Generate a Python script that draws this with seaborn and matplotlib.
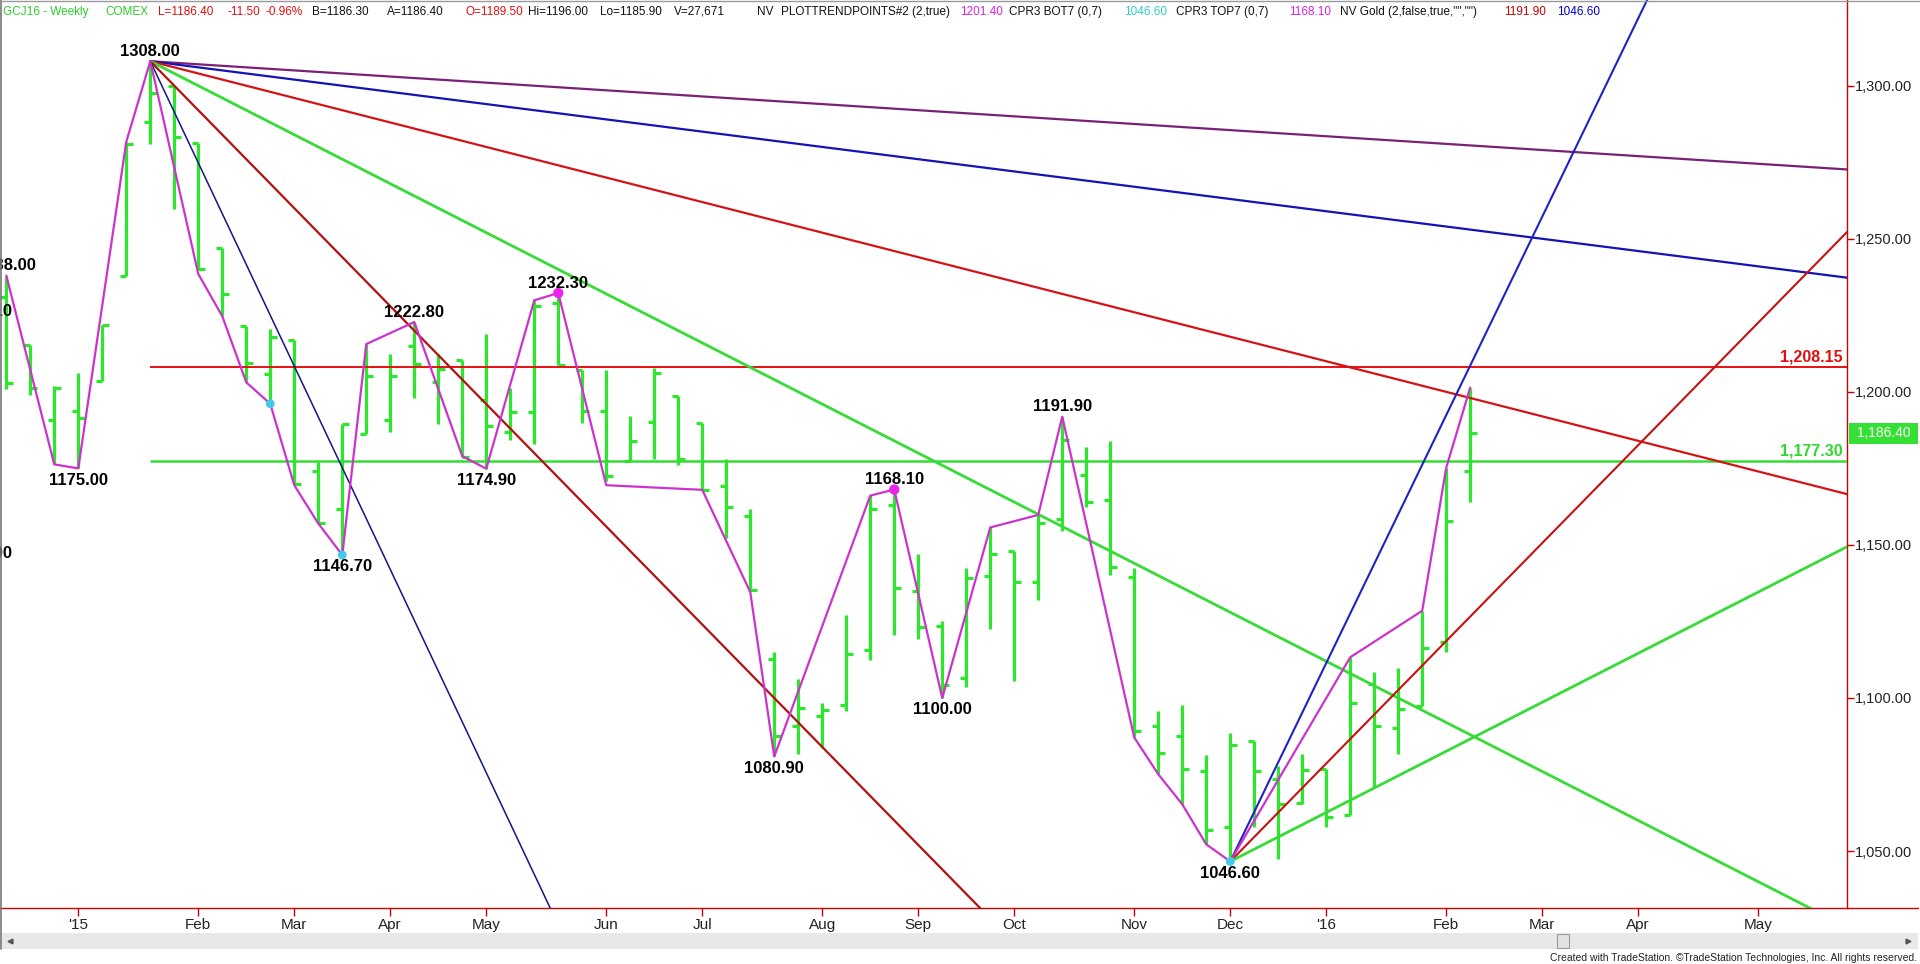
import matplotlib
matplotlib.use("Agg")
import matplotlib.pyplot as plt
import matplotlib.transforms as mtransforms
from matplotlib.lines import Line2D
from matplotlib.patches import Rectangle
from matplotlib.ticker import FuncFormatter
import pandas as pd
import seaborn as sns

# Weekly GC bars, week index 0 = week of 8 Dec 2014
opens = [1231.0, 1215.4, 1190.9, 1193.8, 1203.7, 1237.8, 1288.3, 1300.0, 1281.3, 1247.0,
         1221.5, 1205.8, 1217.1, 1174.0, 1161.7, 1186.2, 1190.9, 1215.0, 1203.2, 1210.3,
         1197.2, 1186.9, 1193.5, 1229.0, 1207.3, 1193.8, 1177.4, 1190.3, 1198.5, 1189.7,
         1169.2, 1159.6, 1112.6, 1091.0, 1094.1, 1097.7, 1115.6, 1163.0, 1134.8, 1123.4,
         1106.5, 1139.9, 1147.9, 1138.0, 1158.5, 1172.9, 1164.7, 1139.4, 1090.9, 1087.7,
         1076.2, 1057.8, 1086.1, 1073.6, 1065.7, 1076.7, 1061.9, 1104.5, 1090.3, 1097.3,
         1118.3, 1174.0]
highs = [1238.0, 1215.4, 1202.0, 1206.0, 1221.8, 1281.7, 1308.0, 1300.0, 1281.3, 1247.1,
         1221.5, 1220.6, 1217.1, 1177.1, 1189.4, 1215.6, 1212.5, 1222.8, 1212.5, 1210.3,
         1218.8, 1201.3, 1230.2, 1232.3, 1207.3, 1207.3, 1192.1, 1207.9, 1198.5, 1189.7,
         1178.2, 1161.6, 1114.9, 1106.2, 1098.5, 1127.0, 1166.3, 1168.1, 1146.9, 1125.2,
         1142.4, 1155.7, 1147.9, 1159.8, 1191.9, 1182.1, 1184.1, 1142.4, 1095.8, 1097.8,
         1081.4, 1088.7, 1086.1, 1077.9, 1081.8, 1076.7, 1113.3, 1108.6, 1109.8, 1128.5,
         1175.2, 1201.4]
lows = [1200.8, 1199.0, 1176.3, 1175.0, 1203.7, 1237.8, 1281.0, 1259.7, 1239.7, 1224.7,
        1203.1, 1196.1, 1169.9, 1157.0, 1146.7, 1186.2, 1186.8, 1197.9, 1189.6, 1178.8,
        1174.9, 1184.2, 1183.0, 1208.7, 1189.7, 1171.0, 1177.4, 1178.0, 1176.2, 1168.0,
        1152.2, 1135.2, 1080.9, 1081.8, 1083.6, 1095.9, 1112.3, 1120.5, 1119.4, 1100.0,
        1103.7, 1122.5, 1105.4, 1132.0, 1154.6, 1162.5, 1140.3, 1087.1, 1075.1, 1065.3,
        1052.2, 1046.6, 1057.8, 1047.3, 1065.4, 1057.8, 1061.9, 1070.9, 1081.7, 1097.3,
        1115.0, 1164.1]
closes = [1203.0, 1201.4, 1201.4, 1191.5, 1221.8, 1281.0, 1297.7, 1283.3, 1240.0, 1231.9,
          1209.5, 1218.0, 1170.0, 1157.3, 1189.4, 1205.1, 1205.1, 1209.2, 1207.6, 1178.8,
          1189.0, 1193.5, 1228.0, 1208.7, 1193.8, 1172.4, 1183.9, 1206.2, 1178.0, 1168.0,
          1162.4, 1135.4, 1087.7, 1096.7, 1096.0, 1114.4, 1161.6, 1135.8, 1123.1, 1104.1,
          1139.2, 1147.0, 1138.0, 1157.0, 1184.3, 1163.9, 1142.9, 1089.3, 1081.9, 1076.8,
          1056.8, 1084.6, 1076.3, 1065.4, 1076.5, 1061.1, 1098.4, 1090.7, 1096.4, 1116.4,
          1157.7, 1186.4]

# trend points (zigzag)
zig_idx = [0, 2, 3, 5, 6, 8, 9, 10, 11, 12, 13, 14, 15, 17, 19, 20, 22, 23, 25, 29,
           31, 32, 36, 37, 39, 41, 43, 44, 47, 48, 49, 50, 51, 56, 59, 60, 61]
zig_price = [1238.0, 1176.3, 1175.0, 1281.7, 1308.0, 1238.5, 1224.7, 1203.1, 1196.1, 1169.5,
             1157.0, 1146.7, 1215.6, 1222.8, 1179.0, 1174.9, 1229.9, 1232.3, 1169.5, 1168.0,
             1134.6, 1080.9, 1166.1, 1168.1, 1100.0, 1155.7, 1159.8, 1191.9, 1087.1, 1075.1,
             1065.3, 1052.2, 1046.6, 1113.3, 1128.5, 1175.2, 1201.4]

# swing labels
label_idx = [-1, -1, 0, 3, 6, 14, 17, 20, 23, 32, 37, 39, 44, 51]
label_text = ["1223.10", "1150.90", "1238.00", "1175.00", "1308.00", "1146.70", "1222.80",
              "1174.90", "1232.30", "1080.90", "1168.10", "1100.00", "1191.90", "1046.60"]
label_above = [True, False, True, False, True, False, True, False, True, False, True,
               False, True, False]

magenta_dot_idx = [23, 37]
magenta_dot_price = [1232.3, 1168.1]
cyan_dot_idx = [11, 14, 51]
cyan_dot_price = [1196.1, 1146.7, 1046.6]

# fan lines
peak_idx, peak_price = 6, 1308.0
peak_slopes = [-0.5, -1, -2, -4, -8, -16.6]
peak_colors = ["#7b2077", "#1414b4", "#d41414", "#36dc36", "#b41010", "#141488"]
low_idx, low_price = 51, 1046.6
low_slopes = [16.2, 8, 4]
low_colors = ["#2020c8", "#c81010", "#36dc36"]

level_red = 1208.15
level_green = 1177.30
last_price = 1186.40

month_idx = [3, 8, 12, 16, 20, 25, 29, 34, 38, 42, 47, 51, 55, 60, 64, 68, 73]
month_lbl = ["'15", "Feb", "Mar", "Apr", "May", "Jun", "Jul", "Aug", "Sep", "Oct",
             "Nov", "Dec", "'16", "Feb", "Mar", "Apr", "May"]

yticks = [1050, 1100, 1150, 1200, 1250, 1300]

header = [
    (3, "GCJ16 - Weekly", "#2ecc2e"),
    (105, "COMEX", "#2ecc2e"),
    (158, "L=1186.40", "#e01010"),
    (227, "-11.50", "#e01010"),
    (266, "-0.96%", "#e01010"),
    (312, "B=1186.30", "#111111"),
    (387, "A=1186.40", "#111111"),
    (466, "O=1189.50", "#e01010"),
    (528, "Hi=1196.00", "#111111"),
    (600, "Lo=1185.90", "#111111"),
    (674, "V=27,671", "#111111"),
    (757, "NV", "#111111"),
    (781, "PLOTTRENDPOINTS#2 (2,true)", "#111111"),
    (960, "1201.40", "#dd22dd"),
    (1009, "CPR3 BOT7 (0,7)", "#111111"),
    (1124, "1046.60", "#33cccc"),
    (1176, "CPR3 TOP7 (0,7)", "#111111"),
    (1289, "1168.10", "#dd22dd"),
    (1340, 'NV Gold (2,false,true,"","")', "#111111"),
    (1504, "1191.90", "#cc0000"),
    (1557, "1046.60", "#0000cc"),
]

sns.set_theme(style="white")
plt.rcParams["font.family"] = ["Liberation Sans", "DejaVu Sans"]

df = pd.DataFrame({"open": opens, "high": highs, "low": lows, "close": closes})
df["i"] = range(len(df))

W, H = 1920, 964
fig = plt.figure(figsize=(W / 100, H / 100), dpi=100)
fig.patch.set_facecolor("white")
ax = fig.add_axes([0, 56 / H, 1847 / W, 908 / H])
ax.set_facecolor("white")

xmin, xmax = -0.2625, 76.70
ymin, ymax = 1031.4, 1328.0

bar_green = "#2ee62e"
tw = 0.27
ax.vlines(df["i"], df["low"], df["high"], color=bar_green, lw=2.3, zorder=2)
ax.hlines(df["open"], df["i"] - tw, df["i"], color=bar_green, lw=2.3, zorder=2)
ax.hlines(df["close"], df["i"], df["i"] + tw, color=bar_green, lw=2.3, zorder=2)

# horizontal levels
ax.hlines(level_red, peak_idx, xmax, color="#e81010", lw=1.4, zorder=3)
ax.hlines(level_green, peak_idx, xmax, color="#36dc36", lw=1.8, zorder=3)

# fan lines from the high and from the low
for s, c in zip(peak_slopes, peak_colors):
    lw = 2.0 if c == "#36dc36" else (1.1 if c == "#141488" else 1.6)
    ax.plot([peak_idx, xmax], [peak_price, peak_price + s * (xmax - peak_idx)],
            color=c, lw=lw, zorder=3)
for s, c in zip(low_slopes, low_colors):
    lw = 2.0 if c == "#36dc36" else 1.5
    ax.plot([low_idx, xmax], [low_price, low_price + s * (xmax - low_idx)],
            color=c, lw=lw, zorder=3)

sns.lineplot(x=zig_idx, y=zig_price, sort=False, estimator=None, color="#cc33cc",
             lw=1.6, ax=ax, zorder=4)
sns.scatterplot(x=magenta_dot_idx, y=magenta_dot_price, color="#ee22ee", s=55,
                edgecolor="none", ax=ax, zorder=5)
sns.scatterplot(x=cyan_dot_idx, y=cyan_dot_price, color="#44c8ee", s=40,
                edgecolor="none", ax=ax, zorder=5)

for i, t, up in zip(label_idx, label_text, label_above):
    ax.annotate(t, (i, float(t)), xytext=(0, 3.8 if up else -3),
                textcoords="offset points", ha="center",
                va="baseline" if up else "top", fontsize=12, fontweight="bold",
                color="black", annotation_clip=False, zorder=6)

ax.annotate("1,208.15", (76.53, level_red), xytext=(0, 2), textcoords="offset points",
            ha="right", va="bottom", color="#e01010", fontsize=11.5, fontweight="bold")
ax.annotate("1,177.30", (76.53, level_green), xytext=(0, 2), textcoords="offset points",
            ha="right", va="bottom", color="#2ed82e", fontsize=11.5, fontweight="bold")

ax.set_xlim(xmin, xmax)
ax.set_ylim(ymin, ymax)
ax.set_xlabel("")
ax.set_ylabel("")

# axes styling
for side in ["top", "left"]:
    ax.spines[side].set_visible(False)
for side in ["right", "bottom"]:
    ax.spines[side].set_color("#cc0000")
    ax.spines[side].set_linewidth(1.0)
ax.yaxis.tick_right()
ax.set_yticks(yticks)
ax.yaxis.set_major_formatter(FuncFormatter(lambda v, p: f"{v:,.2f}"))
ax.tick_params(axis="y", which="major", right=True, direction="out", length=5,
               width=1, color="#cc0000", labelsize=10.5, labelcolor="#222222", pad=1)
ax.set_xticks(month_idx)
ax.set_xticklabels(month_lbl)
ax.tick_params(axis="x", which="major", bottom=True, direction="out", length=6,
               width=1, color="#cc0000", labelsize=11, labelcolor="#222222", pad=1)
ax.grid(False)

# last price box
trans = mtransforms.blended_transform_factory(ax.transAxes, ax.transData)
ax.text(1.0, last_price, " 1,186.40 ", transform=trans + mtransforms.ScaledTranslation(
        4 / 72, 0, fig.dpi_scale_trans), ha="left", va="center", color="white",
        fontsize=10, bbox=dict(boxstyle="square,pad=0.25", fc="#33e033", ec="none"),
        clip_on=False, zorder=10)

# header
for x, t, c in header:
    fig.text(x / W, 1 - 15 / H, t, ha="left", va="baseline", fontsize=8.5, color=c)

# frame, scrollbar and credits
fig.add_artist(Line2D([1847 / W, 1918 / W], [56 / H, 56 / H], transform=fig.transFigure,
                      color="#cc0000", lw=1.0))
fig.add_artist(Line2D([0.6 / W, 0.6 / W], [15 / H, 1], transform=fig.transFigure,
                      color="#777777", lw=1.2))
fig.add_artist(Line2D([0, 1], [1 - 0.6 / H, 1 - 0.6 / H], transform=fig.transFigure,
                      color="#999999", lw=1.0))
fig.add_artist(Rectangle((2 / W, 15 / H), 1916 / W, 16 / H, transform=fig.transFigure,
                         fc="#e8e8e8", ec="none"))
fig.add_artist(Rectangle((1557 / W, 16 / H), 12 / W, 14 / H, transform=fig.transFigure,
                         fc="#e2e2e2", ec="#9a9a9a", lw=0.8))
fig.add_artist(Line2D([10 / W], [23 / H], transform=fig.transFigure, marker="<", ms=3.5,
                      color="#555555", lw=0))
fig.add_artist(Line2D([1908 / W], [23 / H], transform=fig.transFigure, marker=">", ms=3.5,
                      color="#555555", lw=0))
fig.text(1917 / W, 6 / H,
         "Created with TradeStation. \u00a9TradeStation Technologies, Inc. All rights reserved.",
         ha="right", va="center", fontsize=7.5, color="#222222")

fig.savefig("out.png", dpi=100, facecolor="white")
